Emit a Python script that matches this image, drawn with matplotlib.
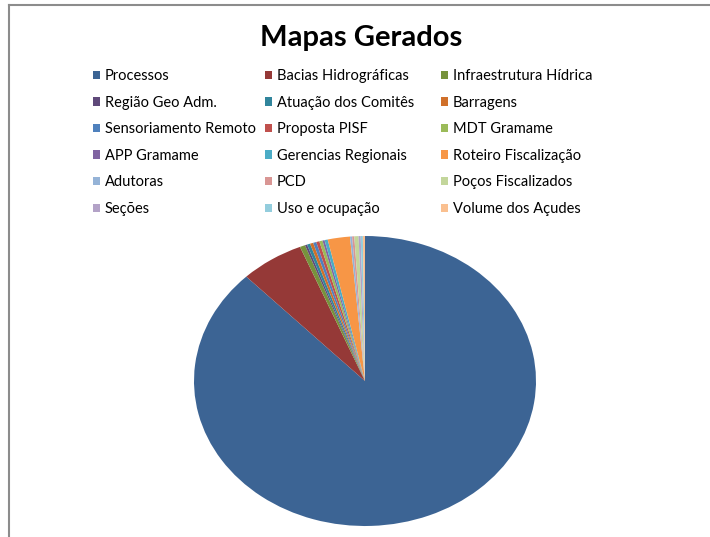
import matplotlib.pyplot as plt
from matplotlib.patches import Patch
from matplotlib.lines import Line2D

plt.rcParams['font.family'] = ['Lato', 'DejaVu Sans']

labels = ['Processos', 'Bacias Hidrográficas', 'Infraestrutura Hídrica',
          'Região Geo Adm.', 'Atuação dos Comitês', 'Barragens',
          'Sensoriamento Remoto', 'Proposta PISF', 'MDT Gramame',
          'APP Gramame', 'Gerencias Regionais', 'Roteiro Fiscalização',
          'Adutoras', 'PCD', 'Poços Fiscalizados',
          'Seções', 'Uso e ocupação', 'Volume dos Açudes']
valores = [877, 60, 5, 2, 3, 3, 3, 3, 3, 2, 3, 21, 2, 2, 4, 2, 2, 2]
cores = ['#3C6494', '#953937', '#77933C', '#5F497A', '#31859C', '#D0702A',
         '#4F81BD', '#C0504D', '#9BBB59', '#8064A2', '#4BACC6', '#F79646',
         '#95B3D7', '#D99694', '#C3D69B', '#B3A2C7', '#93CDDD', '#FAC090']

W, H = 710, 537
fig = plt.figure(figsize=(W / 100, H / 100), dpi=100)

# pizza esticada (elipse), como no Excel
cx, cy, rx, ry = 365, 381, 171, 145
ax = fig.add_axes([(cx - rx) / W, (H - cy - ry) / H, 2 * rx / W, 2 * ry / H])
ax.pie(valores, colors=cores, startangle=90, counterclock=False,
       wedgeprops=dict(linewidth=0))
ax.set_aspect('auto')
ax.set_xlim(-1, 1)
ax.set_ylim(-1, 1)

fig.text(361 / W, 1 - 38 / H, 'Mapas Gerados', ha='center', va='center',
         fontsize=21, fontweight='bold')

# legenda: 3 colunas de largura igual, preenchidas por linha
for c, x0 in enumerate([79.5, 251.5, 427.5]):
    idx = range(c, len(labels), 3)
    handles = [Patch(facecolor=cores[i], edgecolor='none', label=labels[i]) for i in idx]
    leg = fig.legend(handles=handles, ncol=1, loc='upper left',
                     bbox_to_anchor=(x0 / W, 1 - 56 / H), frameon=False,
                     fontsize=10.5, handlelength=0.5, handleheight=0.5,
                     handletextpad=0.32, labelspacing=0.86)

# moldura
fig.add_artist(Line2D([9 / W, 9 / W], [0, 1 - 5 / H], color='#8C8C8C', lw=1.5))
fig.add_artist(Line2D([9 / W, 1], [1 - 5 / H, 1 - 5 / H], color='#8C8C8C', lw=1.5))

fig.savefig('out.png', dpi=100)
